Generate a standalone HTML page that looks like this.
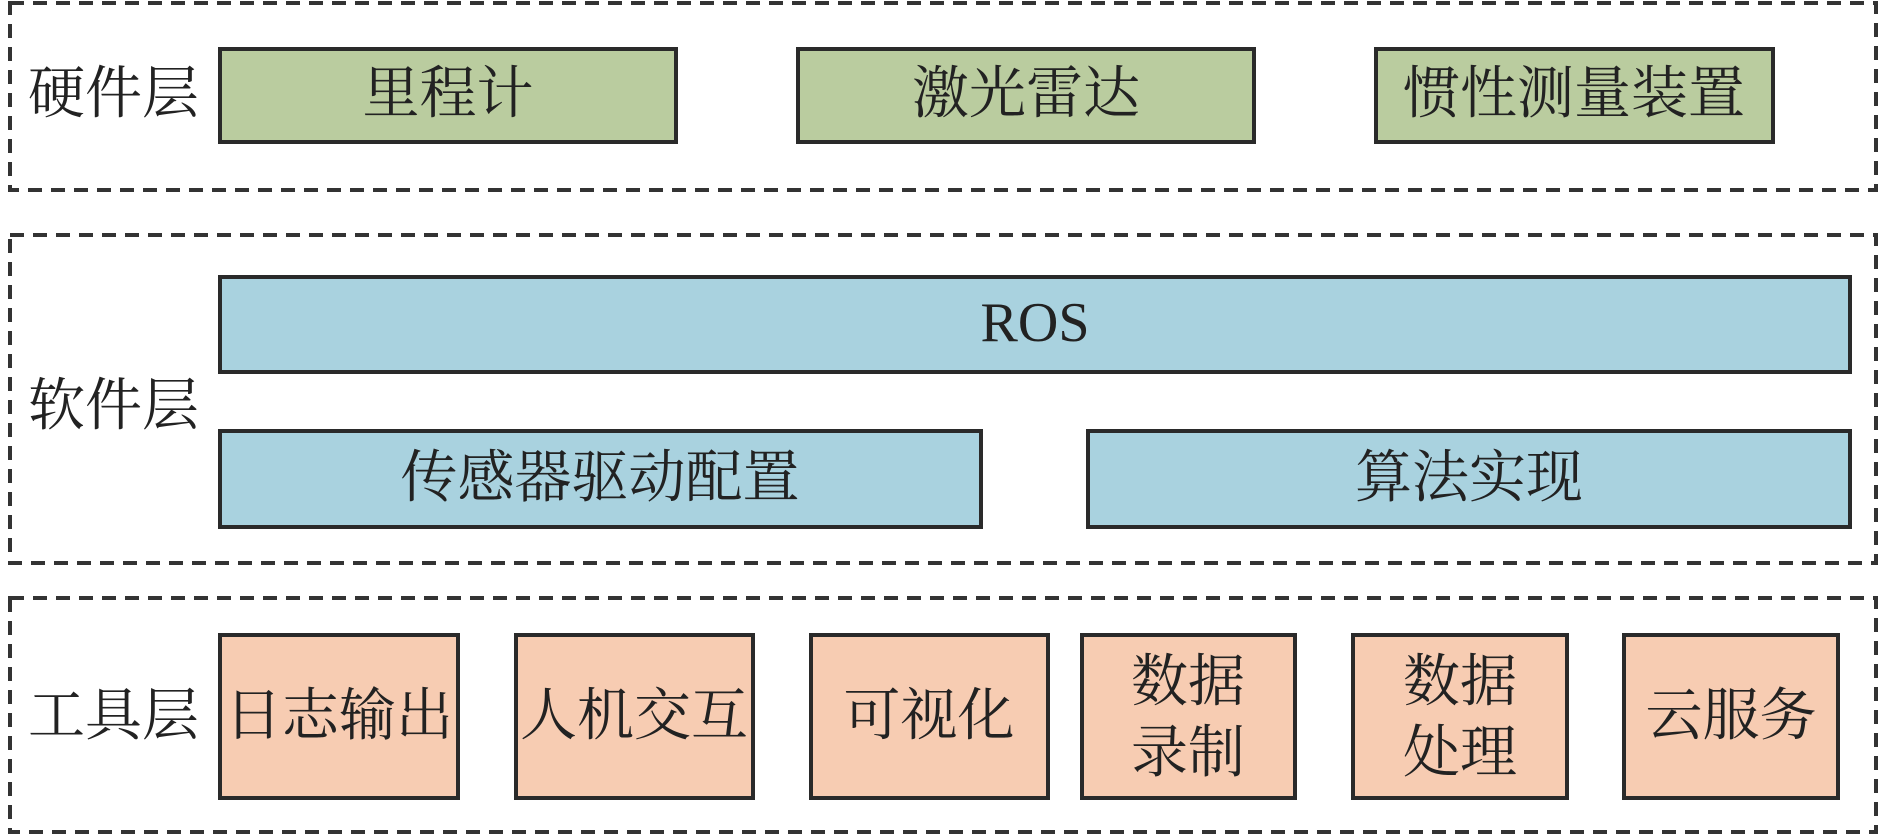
<!DOCTYPE html>
<html><head><meta charset="utf-8"><style>
html,body{margin:0;padding:0;background:#fff;}
svg{display:block;}
text{font-family:"Liberation Serif","Noto Serif CJK SC",serif;fill:#222;}
</style></head><body>
<svg width="1890" height="836" viewBox="0 0 1890 836" xmlns="http://www.w3.org/2000/svg">
<g fill="none" stroke="#333" stroke-width="4" stroke-dasharray="14 9">
<rect x="10" y="3" width="1866" height="187"/>
<rect x="10" y="235" width="1866" height="328"/>
<rect x="10" y="598" width="1866" height="234"/>
</g>
<g stroke="#2a2a2a" stroke-width="4">
<rect x="220" y="49" width="456" height="93" fill="#bacc9f"/>
<rect x="798" y="49" width="456" height="93" fill="#bacc9f"/>
<rect x="1376" y="49" width="397" height="93" fill="#bacc9f"/>
<rect x="220" y="277" width="1630" height="95" fill="#a9d2df"/>
<rect x="220" y="431" width="761" height="96" fill="#a9d2df"/>
<rect x="1088" y="431" width="762" height="96" fill="#a9d2df"/>
<rect x="220" y="635" width="238" height="163" fill="#f7ccb2"/>
<rect x="516" y="635" width="237" height="163" fill="#f7ccb2"/>
<rect x="811" y="635" width="237" height="163" fill="#f7ccb2"/>
<rect x="1082" y="635" width="213" height="163" fill="#f7ccb2"/>
<rect x="1353" y="635" width="214" height="163" fill="#f7ccb2"/>
<rect x="1624" y="635" width="214" height="163" fill="#f7ccb2"/>
</g>
<g font-size="57" dominant-baseline="central">
<text x="28" y="94">硬件层</text>
<text x="28" y="406">软件层</text>
<text x="28" y="716">工具层</text>
</g>
<g font-size="57" text-anchor="middle" dominant-baseline="central">
<text x="448" y="94">里程计</text>
<text x="1026" y="94">激光雷达</text>
<text x="1574" y="94">惯性测量装置</text>
<text x="1035" y="323" font-size="56">ROS</text>
<text x="600" y="478">传感器驱动配置</text>
<text x="1469" y="478">算法实现</text>
<text x="339" y="716">日志输出</text>
<text x="634" y="716">人机交互</text>
<text x="929" y="716">可视化</text>
<text x="1188" y="682">数据</text>
<text x="1188" y="753">录制</text>
<text x="1460" y="682">数据</text>
<text x="1460" y="753">处理</text>
<text x="1731" y="716">云服务</text>
</g>
</svg>
</body></html>
